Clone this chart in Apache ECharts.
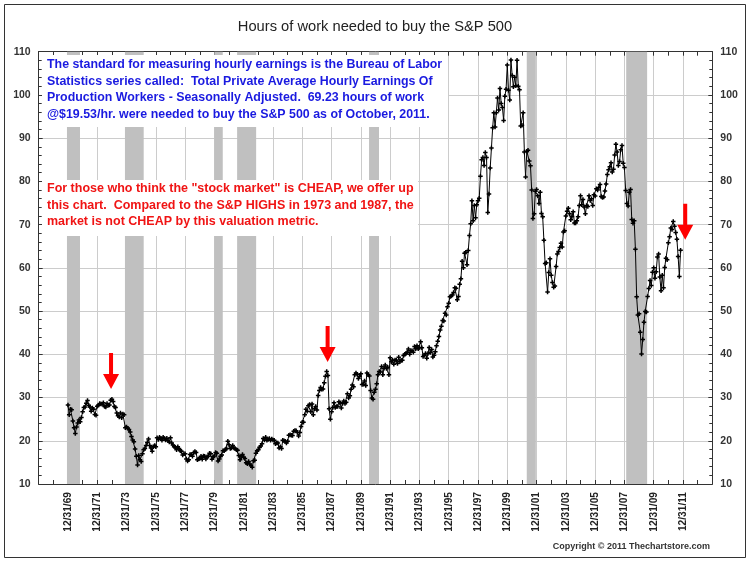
<!DOCTYPE html>
<html>
<head>
<meta charset="utf-8">
<script src="https://cdn.jsdelivr.net/npm/echarts/dist/echarts.min.js"></script>
<style>html,body{margin:0;padding:0;background:#fff}#c{width:750px;height:562px}</style>
</head>
<body>
<div id="c"></div>
<script>
// Month-end values; first value is Dec 1969 (12/31/69 = 1970.0 on the axis)
const firstMonthEnd = 1970;
const hours1969to1979 = [28.3,
  26.0,27.3,27.2,24.6,23.0,21.7,23.2,24.1,24.8,24.4,25.4,26.7,
  27.7,27.8,28.7,29.3,28.2,27.8,26.8,27.6,27.3,26.1,25.9,28.0,
  28.2,28.6,28.5,28.5,28.8,27.9,27.8,28.6,28.2,28.3,29.4,29.6,
  29.1,27.9,27.7,26.4,25.8,25.5,26.4,25.3,26.2,26.0,23.0,23.2,
  22.9,22.6,22.0,21.0,20.2,19.8,18.1,16.4,14.4,16.6,15.6,15.2,
  17.0,17.9,18.2,18.9,19.6,20.4,18.9,18.3,17.6,18.6,18.9,18.6,
  20.7,20.3,20.8,20.5,20.1,20.8,20.5,20.2,20.6,20.0,19.7,20.7,
  19.5,19.0,18.6,18.5,17.9,18.6,18.2,17.7,17.6,16.7,17.0,17.0,
  15.8,15.3,15.6,16.8,16.8,16.4,17.2,17.5,17.3,15.6,15.8,15.9,
  16.4,15.7,16.5,16.4,15.8,16.3,16.4,17.1,17.0,15.7,16.3,16.5];
const hours1980s = [
  17.3,17.1,15.3,15.8,16.4,16.7,17.7,17.7,18.0,18.2,19.9,19.1,
  18.2,18.3,18.9,18.3,18.2,17.9,17.8,16.6,15.6,16.3,16.8,16.2,
  15.9,14.9,14.7,15.2,14.6,14.2,13.9,15.4,15.5,17.1,17.7,17.9,
  18.5,18.8,19.3,20.5,20.2,20.8,20.1,20.3,20.5,20.1,20.4,20.2,
  20.1,19.3,19.5,19.5,18.3,18.6,18.2,20.1,20.0,19.9,19.5,19.9,
  21.3,21.4,21.3,21.2,22.2,22.4,22.3,21.9,21.1,21.9,23.3,24.3,
  24.3,26.0,27.3,26.8,28.1,28.4,26.7,28.5,26.0,27.4,27.9,27.1,
  30.5,31.6,32.3,31.9,32.0,33.4,34.9,36.0,35.1,27.4,25.0,26.7,
  27.7,28.8,27.7,27.9,27.9,29.0,28.8,27.6,28.6,29.2,28.6,28.9,
  30.9,29.9,30.4,31.9,32.9,32.5,35.3,35.7,35.4,34.4,34.9,35.5];
const hours1990s = [
  33.0,33.1,33.8,32.8,35.7,35.3,35.0,31.6,29.9,29.6,31.2,31.9,
  33.2,35.3,36.0,35.9,37.2,35.3,36.8,37.5,36.7,37.0,35.3,39.2,
  38.3,38.6,37.7,38.7,38.6,37.9,39.3,38.3,38.6,38.6,39.7,40.0,
  40.2,40.5,41.2,40.0,40.8,40.8,40.5,41.8,41.3,42.0,41.3,41.6,
  42.9,41.5,39.5,39.8,40.2,39.1,40.2,41.6,40.4,41.1,39.4,39.8,
  40.6,42.0,43.0,44.1,45.6,46.5,47.8,47.7,49.5,49.1,51.0,51.8,
  53.3,53.5,53.7,54.3,55.4,55.3,52.6,53.4,56.2,57.5,61.5,60.0,
  63.4,63.6,60.7,64.0,67.5,70.2,75.5,70.9,74.4,71.6,74.6,75.5,
  76.1,81.2,85.0,85.5,83.7,86.7,85.5,72.8,77.1,83.1,87.7,92.4,
  95.9,92.6,95.9,99.3,96.5,101.5,98.0,97.1,94.1,99.7,101.3,106.9];
const hours2000s = [
  101.1,98.8,108.1,104.5,101.9,104.1,102.1,108.0,102.0,101.2,92.8,93.0,
  95.9,86.8,81.0,87.0,87.2,84.7,83.6,78.0,71.4,72.5,77.7,78.1,
  76.7,74.9,77.5,72.6,71.8,66.4,61.0,61.2,54.4,58.9,62.1,58.3,
  56.6,55.5,55.8,60.3,63.2,63.8,64.7,65.7,64.8,68.3,68.6,72.0,
  73.1,73.8,72.5,71.1,71.9,73.0,70.4,70.4,70.9,71.8,74.4,76.7,
  74.6,75.8,74.1,72.5,74.4,74.2,76.7,75.6,76.0,74.4,76.9,76.6,
  78.3,78.0,78.6,79.3,76.5,76.3,76.4,77.8,79.4,81.6,82.7,83.4,
  84.3,82.2,82.8,86.1,88.6,86.8,83.7,84.6,87.3,88.3,84.2,83.2,
  77.9,74.9,74.3,77.5,78.1,71.2,70.3,70.9,64.3,53.3,49.1,49.4,
  45.1,40.1,43.4,47.4,49.9,49.8,53.4,55.2,57.1,55.9,59.0,60.0];
const hours2010s = [
  57.6,59.1,62.5,63.2,57.9,54.7,58.3,55.4,60.1,62.2,61.9,65.8,
  67.2,69.2,68.9,70.7,69.6,68.2,66.6,62.6,58.0,64.1];

// Recession bands (decimal years)
const recessions = [[1969.93,1970.82],[1973.89,1975.17],[1979.99,1980.57],
  [1981.55,1982.85],[1990.56,1991.24],[2001.33,2001.95],[2008.12,2009.55]];
// Red arrow tips [decimal year, hours]
const arrowTips = [[1972.94,32.0],[1987.73,38.2],[2012.15,66.5]];

const xMin = 1968, xMax = 2014, xStep = 2;
const yMin = 10, yMax = 110, yStep = 10;

const blueNote = [
  'The standard for measuring hourly earnings is the Bureau of Labor',
  'Statistics series called:  Total Private Average Hourly Earnings Of',
  'Production Workers - Seasonally Adjusted.  69.23 hours of work',
  '@$19.53/hr. were needed to buy the S&P 500 as of October, 2011.'];
const redNote = [
  'For those who think the "stock market" is CHEAP, we offer up',
  'this chart.  Compared to the S&P HIGHS in 1973 and 1987, the',
  'market is not CHEAP by this valuation metric.'];

const allHours = [].concat(hours1969to1979, hours1980s, hours1990s, hours2000s, hours2010s);
const seriesData = allHours.map((v, i) => [firstMonthEnd + i / 12, v]);

const FONT = '"Liberation Sans", Arial, sans-serif';
const NARROW = '"Liberation Sans Narrow", "Arial Narrow", "Liberation Sans", sans-serif';
const chart = echarts.init(document.getElementById('c'), null, {renderer: 'canvas'});

function xLabel(v) {
  if (v <= xMin || v >= xMax) return '';
  const yy = String((Math.round(v) - 1) % 100).padStart(2, '0');
  return '12/31/' + yy;
}

const commonX = {
  type: 'value', min: xMin, max: xMax, interval: xStep,
  axisLine: {show: true, lineStyle: {color: '#333', width: 1}},
  axisTick: {show: true, inside: true, length: 4, lineStyle: {color: '#333'}},
  minorTick: {show: true, splitNumber: 2, length: 4, lineStyle: {color: '#333'}},
};
const commonY = {
  type: 'value', min: yMin, max: yMax, interval: yStep,
  axisLine: {show: true, lineStyle: {color: '#333', width: 1}},
  axisTick: {show: true, inside: true, length: 4, lineStyle: {color: '#333'}},
  minorTick: {show: true, splitNumber: 5, length: 3, lineStyle: {color: '#333'}},
  axisLabel: {color: '#333', fontWeight: 'bold', fontSize: 10.5, fontFamily: FONT, margin: 8}
};

const graphics = [
  {type: 'rect', silent: true, z: 200, shape: {x: 4.5, y: 4.5, width: 741, height: 553},
   style: {fill: 'none', stroke: '#333', lineWidth: 1}},
  {type: 'text', silent: true, z: 200, style: {text: 'Hours of work needed to buy the S&P 500',
   x: 375, y: 27, align: 'center', verticalAlign: 'middle', textAlign: 'center', textVerticalAlign: 'middle',
   font: '14.7px ' + FONT, fill: '#222'}},
  {type: 'rect', silent: true, z: 150, shape: {x: 42, y: 55, width: 406, height: 72}, style: {fill: '#fff'}},
  {type: 'rect', silent: true, z: 150, shape: {x: 42, y: 180, width: 376, height: 56}, style: {fill: '#fff'}},
  {type: 'text', silent: true, z: 200, style: {text: 'Copyright \u00a9 2011 Thechartstore.com',
   x: 710, y: 547, align: 'right', verticalAlign: 'middle', textAlign: 'right', textVerticalAlign: 'middle',
   font: 'bold 9px ' + FONT, fill: '#333'}}
];
blueNote.forEach((t, i) => graphics.push({type: 'text', silent: true, z: 201,
  style: {text: t, x: 47, y: 65 + i * 16.5, align: 'left', verticalAlign: 'middle', textAlign: 'left', textVerticalAlign: 'middle',
  font: 'bold 12.4px ' + FONT, fill: '#1a1ae0'}}));
redNote.forEach((t, i) => graphics.push({type: 'text', silent: true, z: 201,
  style: {text: t, x: 47, y: 188.5 + i * 16.7, align: 'left', verticalAlign: 'middle', textAlign: 'left', textVerticalAlign: 'middle',
  font: 'bold 12.5px ' + FONT, fill: '#f01414'}}));

chart.setOption({
  animation: false,
  backgroundColor: '#fff',
  grid: {left: 38.7, right: 37.7, top: 51.7, bottom: 78, containLabel: false, outerBoundsMode: 'none'},
  xAxis: [
    Object.assign({}, commonX, {position: 'bottom',
      splitLine: {show: true, lineStyle: {color: '#cccccc', width: 1}},
      axisLabel: {rotate: 90, margin: 8, color: '#222', fontWeight: 'bold', fontSize: 10.2, fontFamily: NARROW,
        formatter: xLabel, showMinLabel: false, showMaxLabel: false}}),
    Object.assign({}, commonX, {position: 'top', splitLine: {show: false}, axisLabel: {show: false}})
  ],
  yAxis: [
    Object.assign({}, commonY, {position: 'left', splitLine: {show: true, lineStyle: {color: '#cccccc', width: 1}}}),
    Object.assign({}, commonY, {position: 'right', splitLine: {show: false}})
  ],
  series: [
    {type: 'line', name: 'recessions', data: [], z: 1, silent: true,
     markArea: {silent: true, itemStyle: {color: '#c0c0c0', opacity: 1},
       data: recessions.map(r => [{xAxis: r[0], yAxis: yMin}, {xAxis: r[1], yAxis: yMax}])}},
    {type: 'line', name: 'Hours', data: seriesData, z: 3, silent: true,
     symbol: 'path://M2,0H4V2H6V4H4V6H2V4H0V2H2Z', symbolSize: 4.5, showSymbol: true,
     lineStyle: {color: '#000', width: 1}, itemStyle: {color: '#000'},
     markPoint: {silent: true, symbol: 'path://M6,0L10,0L10,21L16,21L8,36L0,21L6,21Z',
       symbolSize: [16, 36], symbolOffset: [0, '-50%'], itemStyle: {color: '#ff0000'}, label: {show: false},
       data: arrowTips.map(a => ({coord: a}))}}
  ],
  graphic: graphics
});
</script>
</body>
</html>
